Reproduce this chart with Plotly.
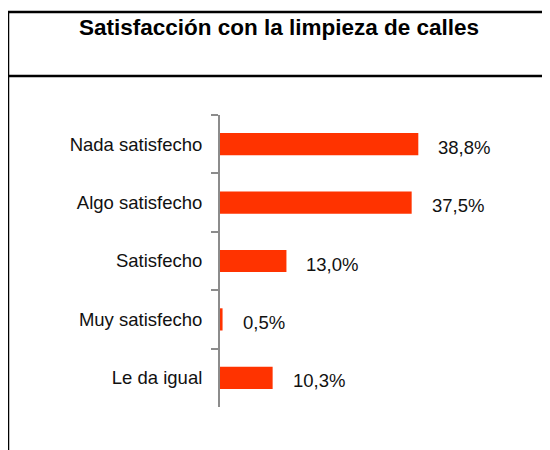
import plotly.graph_objects as go

categories = ["Nada satisfecho", "Algo satisfecho", "Satisfecho", "Muy satisfecho", "Le da igual"]
values = [38.8, 37.5, 13.0, 0.5, 10.3]
value_labels = [f"{v:.1f}%".replace(".", ",") for v in values]
title_text = "Satisfacción con la limpieza de calles"

# page body has an 8px margin, so figure coordinates are offset by 8px
W, H = 550, 450
L, R, T, B = 212, 108, 107, 51
pw, ph = W - L - R, H - T - B

def px_x(px):
    return (px - L) / pw

def px_y(py):
    return (H - B - py) / ph

fig = go.Figure()
fig.add_trace(go.Bar(
    x=values, y=categories, orientation="h",
    marker=dict(color="#FF3300", line=dict(width=0)),
    hoverinfo="skip",
))

for v, c, lab in zip(values, categories, value_labels):
    fig.add_annotation(x=v, y=c, text=lab, showarrow=False, xanchor="left",
                       xshift=18, yshift=-3,
                       font=dict(family="Liberation Sans, Arial", size=18.5, color="#111"))

# frame
fig.add_shape(type="rect", xref="paper", yref="paper",
              x0=px_x(0), x1=px_x(600), y0=px_y(500), y1=px_y(4),
              line=dict(color="#000", width=2.5), fillcolor="rgba(0,0,0,0)", layer="above")
fig.add_shape(type="line", xref="paper", yref="paper",
              x0=px_x(0), x1=px_x(600), y0=px_y(68), y1=px_y(68),
              line=dict(color="#000", width=2.5))

fig.update_layout(
    width=W, height=H,
    margin=dict(l=L, r=R, t=T, b=B),
    paper_bgcolor="white", plot_bgcolor="white",
    showlegend=False,
    bargap=0.62,
    title=dict(text=f"<b>{title_text}</b>", x=271 / W, xanchor="center",
               y=1 - 19 / H, yanchor="middle",
               font=dict(family="Liberation Sans, Arial", size=22.5, color="#000")),
    xaxis=dict(range=[0, 45], visible=False, fixedrange=True),
    yaxis=dict(
        type="category", categoryorder="array", categoryarray=categories,
        autorange="reversed",
        showline=True, linecolor="#8c8c8c", linewidth=2,
        ticks="outside", tickson="boundaries", ticklen=7, tickwidth=2, tickcolor="#8c8c8c",
        ticklabelstandoff=12,
        showgrid=False, zeroline=False,
        tickfont=dict(family="Liberation Sans, Arial", size=18.5, color="#111"),
    ),
)

fig.write_html("out.html")
